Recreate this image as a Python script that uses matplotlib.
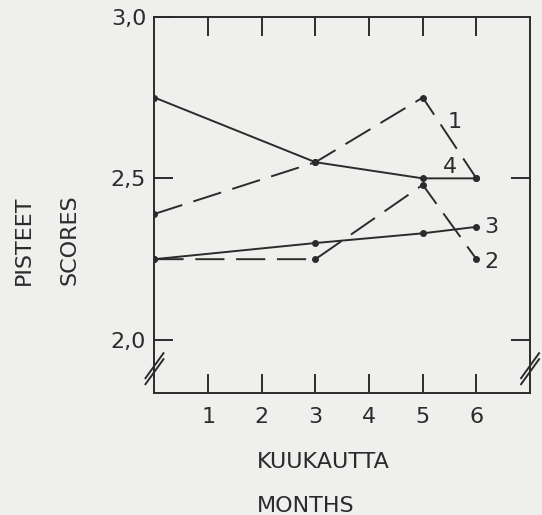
import matplotlib.pyplot as plt

# months after start
months = [0, 3, 5, 6]

# scores per group
group1 = [2.39, 2.55, 2.75, 2.50]
group2 = [2.25, 2.25, 2.48, 2.25]
group3 = [2.25, 2.30, 2.33, 2.35]
group4 = [2.75, 2.55, 2.50, 2.50]

xticks = [1, 2, 3, 4, 5, 6]
yticks = [2.0, 2.5, 3.0]
ytick_labels = ["2,0", "2,5", "3,0"]

ink = "#2b2b2b"
paper = "#efefed"

plt.rcParams['font.family'] = 'DejaVu Sans'

fig = plt.figure(figsize=(5.42, 5.15), dpi=100, facecolor=paper)
ax = fig.add_axes([0.285, 0.2375, 0.693, 0.73])
ax.set_facecolor(paper)

dash = (0, (15, 6))
ax.plot(months, group1, color=ink, lw=1.4, ls=dash, marker='o', ms=4)
ax.plot(months, group2, color=ink, lw=1.4, ls=dash, marker='o', ms=4)
ax.plot(months, group3, color=ink, lw=1.4, marker='o', ms=4)
ax.plot(months, group4, color=ink, lw=1.4, marker='o', ms=4)

# series numbers
ax.text(5.6, 2.675, "1", fontsize=16, color=ink, ha='center', va='center')
ax.text(6.28, 2.24, "2", fontsize=16, color=ink, ha='center', va='center')
ax.text(6.28, 2.35, "3", fontsize=16, color=ink, ha='center', va='center')
ax.text(5.5, 2.535, "4", fontsize=16, color=ink, ha='center', va='center')

ax.set_xlim(0, 7)
ax.set_ylim(1.837, 3.0)
ax.set_xticks(xticks)
ax.set_yticks(yticks)
ax.set_yticklabels(ytick_labels)

ax.tick_params(axis='x', direction='in', length=14, width=1.4, colors=ink,
               labelsize=16, pad=10, top=True)
ax.tick_params(axis='y', direction='in', length=14, width=1.4, colors=ink,
               labelsize=16, pad=6)
for s in ax.spines.values():
    s.set_color(ink)
    s.set_linewidth(1.4)

# right-hand ticks only at 2,0 and 2,5
ax2 = ax.twinx()
ax2.set_ylim(ax.get_ylim())
ax2.set_yticks([2.0, 2.5])
ax2.set_yticklabels([])
ax2.tick_params(axis='y', direction='in', length=14, width=1.4, colors=ink)
for s in ax2.spines.values():
    s.set_visible(False)

# axis break marks (//) on both sides
w, h = 375.5, 376.0
for xc in (0.0, 1.0):
    for off in (4.0, -2.0):
        yc = (23.0 + off) / h
        ax.plot([xc - 9 / w, xc + 9 / w], [yc - 12.5 / h, yc + 12.5 / h],
                transform=ax.transAxes, color=ink, lw=1.4, clip_on=False)

fig.text(0.044, 0.4466, "PISTEET", rotation=90, fontsize=16, color=ink,
         ha='center', va='bottom')
fig.text(0.129, 0.4466, "SCORES", rotation=90, fontsize=16, color=ink,
         ha='center', va='bottom')
fig.text(0.474, 0.0907, "KUUKAUTTA", fontsize=16, color=ink,
         ha='left', va='baseline')
fig.text(0.474, 0.006, "MONTHS", fontsize=16, color=ink,
         ha='left', va='baseline')

plt.savefig('out.png', dpi=100, facecolor=paper)
